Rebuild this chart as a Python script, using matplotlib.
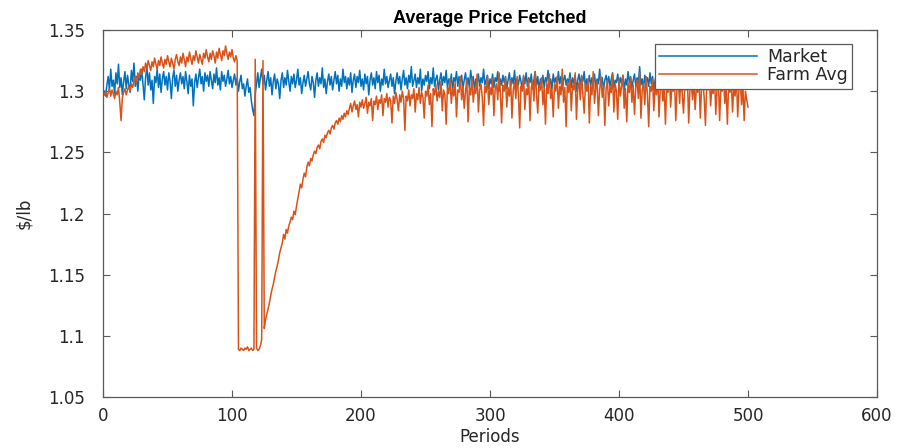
import numpy as np
import matplotlib
matplotlib.use("Agg")
import matplotlib.pyplot as plt

# Average price per period ($/lb)
market = [
    1.300, 1.296, 1.305, 1.312, 1.301, 1.318, 1.304, 1.309, 1.298, 1.315, 1.306, 1.322, 1.303, 1.311, 1.297, 1.308, 1.316, 1.302, 1.313, 1.305,
    1.299, 1.317, 1.308, 1.323, 1.304, 1.312, 1.300, 1.314, 1.309, 1.318, 1.306, 1.293, 1.311, 1.320, 1.305, 1.315, 1.301, 1.309, 1.290, 1.312,
    1.307, 1.318, 1.303, 1.314, 1.299, 1.310, 1.316, 1.305, 1.312, 1.301, 1.315, 1.308, 1.294, 1.311, 1.317, 1.304, 1.313, 1.300, 1.309, 1.315,
    1.306, 1.312, 1.302, 1.316, 1.308, 1.298, 1.313, 1.304, 1.310, 1.288, 1.307, 1.314, 1.303, 1.311, 1.318, 1.306, 1.312, 1.300, 1.315, 1.308,
    1.313, 1.304, 1.316, 1.309, 1.302, 1.314, 1.307, 1.319, 1.305, 1.311, 1.301, 1.316, 1.308, 1.313, 1.304, 1.310, 1.317, 1.306, 1.312, 1.303,
    1.309, 1.314, 1.305, 1.311, 1.300, 1.308, 1.313, 1.302, 1.306, 1.296, 1.304, 1.310, 1.299, 1.303, 1.292, 1.285, 1.280, 1.298, 1.306, 1.315,
    1.303, 1.311, 1.318, 1.306, 1.313, 1.301, 1.309, 1.316, 1.304, 1.311, 1.297, 1.308, 1.314, 1.302, 1.310, 1.306, 1.294, 1.309, 1.315, 1.303,
    1.311, 1.305, 1.317, 1.308, 1.300, 1.312, 1.306, 1.314, 1.303, 1.309, 1.318, 1.305, 1.311, 1.298, 1.307, 1.313, 1.304, 1.310, 1.316, 1.306,
    1.301, 1.312, 1.307, 1.295, 1.309, 1.315, 1.304, 1.311, 1.306, 1.319, 1.303, 1.310, 1.298, 1.308, 1.314, 1.305, 1.312, 1.301, 1.309, 1.316,
    1.306, 1.313, 1.300, 1.310, 1.304, 1.318, 1.307, 1.312, 1.302, 1.311, 1.305, 1.315, 1.299, 1.309, 1.314, 1.303, 1.312, 1.307, 1.317, 1.304,
    1.310, 1.301, 1.314, 1.306, 1.312, 1.297, 1.309, 1.315, 1.305, 1.311, 1.302, 1.316, 1.307, 1.313, 1.300, 1.310, 1.305, 1.318, 1.306, 1.312,
    1.303, 1.309, 1.314, 1.304, 1.311, 1.298, 1.308, 1.315, 1.306, 1.312, 1.301, 1.310, 1.317, 1.305, 1.311, 1.302, 1.313, 1.307, 1.320, 1.304,
    1.309, 1.314, 1.303, 1.311, 1.306, 1.318, 1.300, 1.310, 1.305, 1.313, 1.308, 1.316, 1.302, 1.311, 1.306, 1.319, 1.304, 1.310, 1.313, 1.301,
    1.309, 1.315, 1.305, 1.312, 1.307, 1.317, 1.303, 1.310, 1.306, 1.314, 1.300, 1.311, 1.308, 1.316, 1.304, 1.312, 1.307, 1.313, 1.302, 1.309,
    1.315, 1.305, 1.311, 1.303, 1.317, 1.308, 1.312, 1.301, 1.310, 1.306, 1.314, 1.304, 1.311, 1.307, 1.318, 1.305, 1.309, 1.313, 1.302, 1.310,
    1.306, 1.314, 1.303, 1.311, 1.308, 1.316, 1.300, 1.310, 1.305, 1.313, 1.307, 1.312, 1.302, 1.309, 1.315, 1.304, 1.311, 1.306, 1.317, 1.303,
    1.310, 1.305, 1.313, 1.308, 1.301, 1.312, 1.306, 1.315, 1.304, 1.311, 1.307, 1.314, 1.302, 1.309, 1.316, 1.305, 1.312, 1.300, 1.310, 1.306,
    1.313, 1.303, 1.311, 1.308, 1.317, 1.305, 1.310, 1.302, 1.314, 1.307, 1.311, 1.304, 1.316, 1.306, 1.312, 1.301, 1.309, 1.313, 1.305, 1.310,
    1.307, 1.315, 1.303, 1.311, 1.306, 1.313, 1.300, 1.309, 1.314, 1.305, 1.312, 1.308, 1.316, 1.302, 1.310, 1.306, 1.313, 1.304, 1.311, 1.307,
    1.314, 1.303, 1.310, 1.306, 1.318, 1.305, 1.311, 1.301, 1.309, 1.313, 1.306, 1.312, 1.304, 1.310, 1.315, 1.303, 1.309, 1.307, 1.314, 1.305,
    1.311, 1.306, 1.313, 1.300, 1.310, 1.305, 1.316, 1.307, 1.312, 1.303, 1.309, 1.314, 1.304, 1.311, 1.306, 1.320, 1.305, 1.310, 1.302, 1.313,
    1.307, 1.311, 1.304, 1.315, 1.306, 1.312, 1.301, 1.309, 1.314, 1.305, 1.310, 1.307, 1.313, 1.303, 1.311, 1.306, 1.316, 1.304, 1.310, 1.308,
    1.312, 1.302, 1.311, 1.306, 1.314, 1.305, 1.309, 1.313, 1.300, 1.310, 1.306, 1.315, 1.304, 1.311, 1.307, 1.313, 1.303, 1.310, 1.305, 1.317,
    1.306, 1.311, 1.304, 1.313, 1.308, 1.301, 1.312, 1.306, 1.310, 1.315, 1.303, 1.309, 1.314, 1.305, 1.311, 1.307, 1.318, 1.304, 1.310, 1.306,
    1.313, 1.302, 1.311, 1.307, 1.315, 1.305, 1.309, 1.312, 1.303, 1.310, 1.306, 1.314, 1.304, 1.311, 1.308, 1.316, 1.305, 1.310, 1.307, 1.312,
]

farm_avg = [
    1.297, 1.300, 1.295, 1.299, 1.302, 1.296, 1.301, 1.298, 1.294, 1.300, 1.297, 1.303, 1.291, 1.276, 1.295, 1.299, 1.302, 1.297, 1.301, 1.304,
    1.300, 1.306, 1.303, 1.309, 1.312, 1.307, 1.315, 1.311, 1.318, 1.314, 1.320, 1.316, 1.323, 1.318, 1.325, 1.321, 1.317, 1.324, 1.320, 1.327,
    1.322, 1.318, 1.325, 1.321, 1.328, 1.323, 1.319, 1.326, 1.322, 1.329, 1.324, 1.320, 1.327, 1.323, 1.318, 1.326, 1.330, 1.324, 1.321, 1.328,
    1.323, 1.331, 1.326, 1.320, 1.328, 1.324, 1.332, 1.327, 1.322, 1.329, 1.325, 1.333, 1.328, 1.323, 1.330, 1.326, 1.322, 1.331, 1.327, 1.334,
    1.328, 1.324, 1.331, 1.326, 1.333, 1.329, 1.323, 1.332, 1.327, 1.335, 1.330, 1.325, 1.333, 1.329, 1.337, 1.331, 1.326, 1.332, 1.328, 1.334,
    1.327, 1.324, 1.329, 1.325, 1.089, 1.088, 1.090, 1.089, 1.088, 1.090, 1.089, 1.091, 1.088, 1.089, 1.090, 1.088, 1.089, 1.326, 1.090, 1.088,
    1.089, 1.092, 1.097, 1.325, 1.106, 1.113, 1.118, 1.122, 1.127, 1.133, 1.138, 1.142, 1.148, 1.153, 1.157, 1.162, 1.168, 1.172, 1.176, 1.183,
    1.179, 1.187, 1.184, 1.190, 1.193, 1.197, 1.195, 1.202, 1.199, 1.206, 1.212, 1.218, 1.224, 1.221, 1.228, 1.233, 1.230, 1.238, 1.242, 1.239,
    1.245, 1.243, 1.248, 1.251, 1.249, 1.254, 1.256, 1.253, 1.259, 1.261, 1.258, 1.264, 1.262, 1.266, 1.268, 1.265, 1.270, 1.272, 1.269, 1.274,
    1.276, 1.273, 1.278, 1.275, 1.280, 1.277, 1.282, 1.279, 1.284, 1.281, 1.286, 1.290, 1.283, 1.288, 1.292, 1.285, 1.289, 1.279, 1.291, 1.287,
    1.293, 1.286, 1.290, 1.295, 1.282, 1.291, 1.288, 1.294, 1.276, 1.292, 1.289, 1.296, 1.285, 1.293, 1.290, 1.297, 1.280, 1.294, 1.291, 1.298,
    1.287, 1.295, 1.292, 1.274, 1.296, 1.290, 1.299, 1.293, 1.284, 1.297, 1.291, 1.300, 1.294, 1.268, 1.296, 1.292, 1.301, 1.288, 1.297, 1.294,
    1.302, 1.283, 1.298, 1.293, 1.303, 1.290, 1.299, 1.295, 1.278, 1.300, 1.296, 1.305, 1.289, 1.298, 1.271, 1.302, 1.297, 1.306, 1.292, 1.300,
    1.295, 1.308, 1.284, 1.301, 1.297, 1.273, 1.303, 1.298, 1.310, 1.290, 1.302, 1.296, 1.307, 1.279, 1.301, 1.299, 1.312, 1.293, 1.304, 1.286,
    1.300, 1.309, 1.275, 1.303, 1.297, 1.311, 1.291, 1.302, 1.298, 1.314, 1.283, 1.301, 1.306, 1.295, 1.272, 1.304, 1.299, 1.312, 1.289, 1.303,
    1.297, 1.310, 1.280, 1.302, 1.306, 1.293, 1.315, 1.299, 1.274, 1.305, 1.300, 1.311, 1.287, 1.303, 1.296, 1.309, 1.278, 1.301, 1.307, 1.294,
    1.312, 1.298, 1.270, 1.304, 1.300, 1.313, 1.285, 1.302, 1.297, 1.310, 1.276, 1.303, 1.308, 1.292, 1.316, 1.299, 1.282, 1.305, 1.301, 1.311,
    1.289, 1.303, 1.273, 1.307, 1.298, 1.314, 1.294, 1.302, 1.279, 1.306, 1.300, 1.312, 1.286, 1.304, 1.297, 1.318, 1.291, 1.303, 1.271, 1.308,
    1.299, 1.311, 1.284, 1.305, 1.301, 1.315, 1.277, 1.302, 1.307, 1.293, 1.313, 1.298, 1.282, 1.306, 1.300, 1.310, 1.274, 1.304, 1.297, 1.316,
    1.290, 1.303, 1.308, 1.280, 1.301, 1.312, 1.295, 1.305, 1.272, 1.302, 1.309, 1.288, 1.304, 1.299, 1.314, 1.283, 1.306, 1.300, 1.277, 1.310,
    1.296, 1.304, 1.313, 1.286, 1.302, 1.275, 1.307, 1.299, 1.311, 1.291, 1.305, 1.281, 1.303, 1.309, 1.294, 1.315, 1.278, 1.301, 1.306, 1.289,
    1.312, 1.298, 1.271, 1.304, 1.300, 1.310, 1.284, 1.306, 1.297, 1.313, 1.279, 1.302, 1.308, 1.292, 1.303, 1.273, 1.305, 1.299, 1.316, 1.287,
    1.304, 1.300, 1.311, 1.276, 1.303, 1.308, 1.290, 1.314, 1.298, 1.282, 1.305, 1.301, 1.312, 1.274, 1.302, 1.307, 1.293, 1.310, 1.285, 1.304,
    1.299, 1.313, 1.278, 1.303, 1.308, 1.295, 1.272, 1.306, 1.301, 1.311, 1.288, 1.304, 1.298, 1.315, 1.281, 1.302, 1.309, 1.276, 1.305, 1.300,
    1.312, 1.290, 1.303, 1.273, 1.307, 1.299, 1.310, 1.283, 1.304, 1.296, 1.313, 1.279, 1.302, 1.308, 1.289, 1.305, 1.276, 1.300, 1.293, 1.287,
]

periods = np.arange(1, len(market) + 1)

x_ticks = [0, 100, 200, 300, 400, 500, 600]
y_ticks = [1.05, 1.1, 1.15, 1.2, 1.25, 1.3, 1.35]
y_tick_labels = ["1.05", "1.1", "1.15", "1.2", "1.25", "1.3", "1.35"]

plt.rcParams["font.family"] = ["DejaVu Sans"]
axis_color = "#5a5a5a"
text_color = "#262626"

fig = plt.figure(figsize=(9.02, 4.48), dpi=100)
ax = fig.add_axes([0.1142, 0.1138, 0.8581, 0.8192])

ax.plot(periods, market, color="#0072BD", lw=1.1, label="Market")
ax.plot(periods, farm_avg, color="#D95319", lw=1.1, label="Farm Avg")

ax.set_xlim(0, 600)
ax.set_ylim(1.05, 1.35)
ax.set_xticks(x_ticks)
ax.set_yticks(y_ticks)
ax.set_yticklabels(y_tick_labels)

ax.tick_params(direction="in", length=5, width=0.8, colors=axis_color,
               labelcolor=text_color, labelsize=12, top=True, right=True)
ax.tick_params(axis="y", pad=13)
ax.tick_params(axis="x", pad=7)
for s in ax.spines.values():
    s.set_color(axis_color)
    s.set_linewidth(0.9)

ax.set_title("Average Price Fetched", fontsize=13, fontweight="bold",
             family=["Liberation Sans", "DejaVu Sans"], color="black", pad=5)
ax.set_xlabel("Periods", fontsize=12, color=text_color, labelpad=2.5)
ax.set_ylabel(r"\$/lb", fontsize=12, color=text_color, labelpad=11)

leg = ax.legend(loc="upper right", bbox_to_anchor=(0.9677, 0.9619),
                borderaxespad=0, fontsize=12.5, handlelength=5.6,
                handletextpad=0.6, labelspacing=0.0, borderpad=0.25,
                fancybox=False, framealpha=1, edgecolor=axis_color)
leg.get_frame().set_linewidth(0.9)
for t in leg.get_texts():
    t.set_color(text_color)

fig.savefig("out.png", dpi=100)
